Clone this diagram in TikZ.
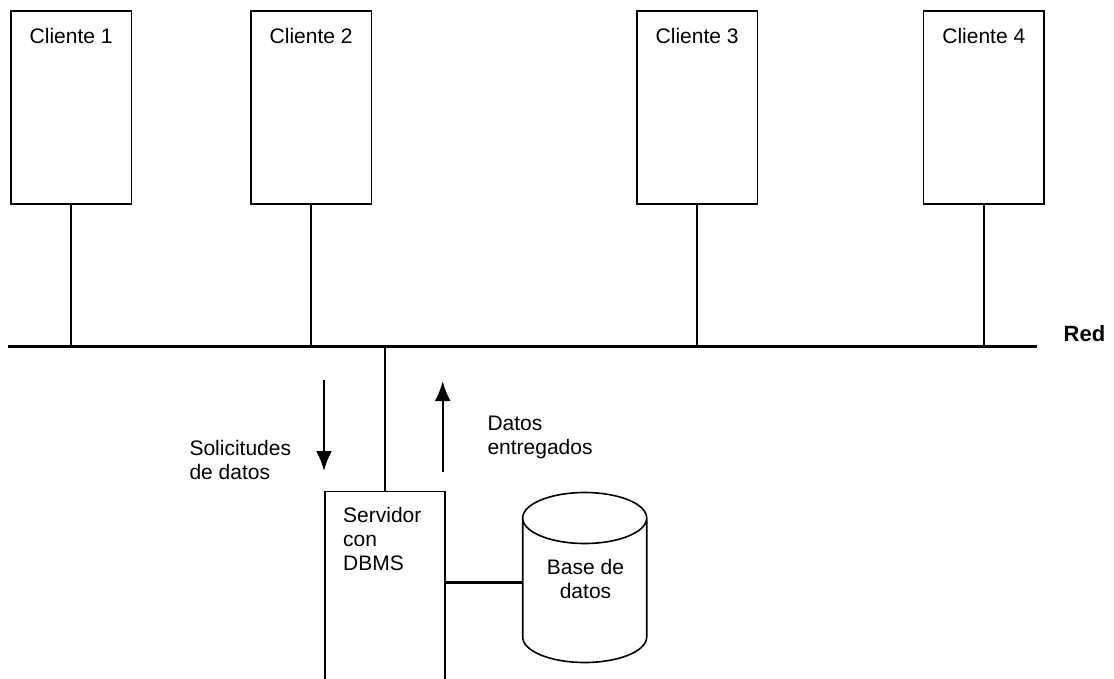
\documentclass[tikz,border=0pt]{standalone}
\usepackage{fontspec}
\setmainfont{Liberation Sans}
\usetikzlibrary{arrows.meta,calc}
\begin{document}
\begin{tikzpicture}[x=1pt,y=-1pt,
  box/.style={draw,line width=1.6pt,inner sep=0pt},
  wire/.style={line width=2.4pt},
  txt/.style={inner sep=0pt,font=\fontsize{21}{24}\selectfont,align=left},
  flow/.style={line width=2.4pt,-{Latex[length=20pt,width=16pt]}}]
\clip (0,0) rectangle (1114,678);
% clients
\foreach \i/\l/\r in {1/10/130.7,2/250/370.7,3/636/756.7,4/922.7/1043.3}{
  \node[box,minimum width={\r-\l},minimum height=193,anchor=north west] (c\i) at (\l,10) {};
  \node[txt,anchor=north] (t\i) at ($(c\i.north)+(0,18)$) {Cliente \i};
}
% network
\coordinate (nl) at (8,346.7);
\coordinate (nr) at (1037,346.7);
\draw[line width=2.6pt] (nl) -- (nr);
\node[inner sep=0pt,anchor=north west,font=\fontsize{22}{24}\selectfont\bfseries] (red) at (1063.5,325) {Red};
\foreach \i in {1,2,3,4}{
  \draw[wire] (c\i.south) -- (c\i.south |- nl);
}
% server
\node[box,minimum width=120.3,minimum height=230,anchor=north west] (srv) at (324,490.7) {};
\coordinate (stemtop) at (srv.north |- nl);
\draw[wire] (stemtop) -- (srv.north);
\node[txt,anchor=north west] (srvt) at (343,507.5) {Servidor\\con\\DBMS};
% arrows
\coordinate (a1s) at (324,380);
\coordinate (a1e) at (324,471);
\draw[flow] (a1s) -- (a1e);
\coordinate (a2s) at (442.7,472);
\coordinate (a2e) at (442.7,381);
\draw[flow] (a2s) -- (a2e);
\node[txt,anchor=north west] (sol) at (189.3,440) {Solicitudes\\de datos};
\node[txt,anchor=north west] (dat) at (487.3,416) {Datos\\entregados};
% database cylinder
\node[inner sep=0pt,minimum width=124,minimum height=170,anchor=north west] (db) at (522.7,492.5) {};
\draw[line width=1.6pt] (522.7,518) -- (522.7,637)
  arc[start angle=180,end angle=0,x radius=62,y radius=25.5]
  -- (646.7,518)
  arc[start angle=0,end angle=-180,x radius=62,y radius=25.5]
  arc[start angle=180,end angle=0,x radius=62,y radius=25.5];
\node[txt,align=center,anchor=north] (dbt) at (585.5,559.3) {Base de\\datos};
\draw[wire] (srv.east |- 0,582.3) -- (db.west |- 0,582.3);
\end{tikzpicture}
\end{document}
